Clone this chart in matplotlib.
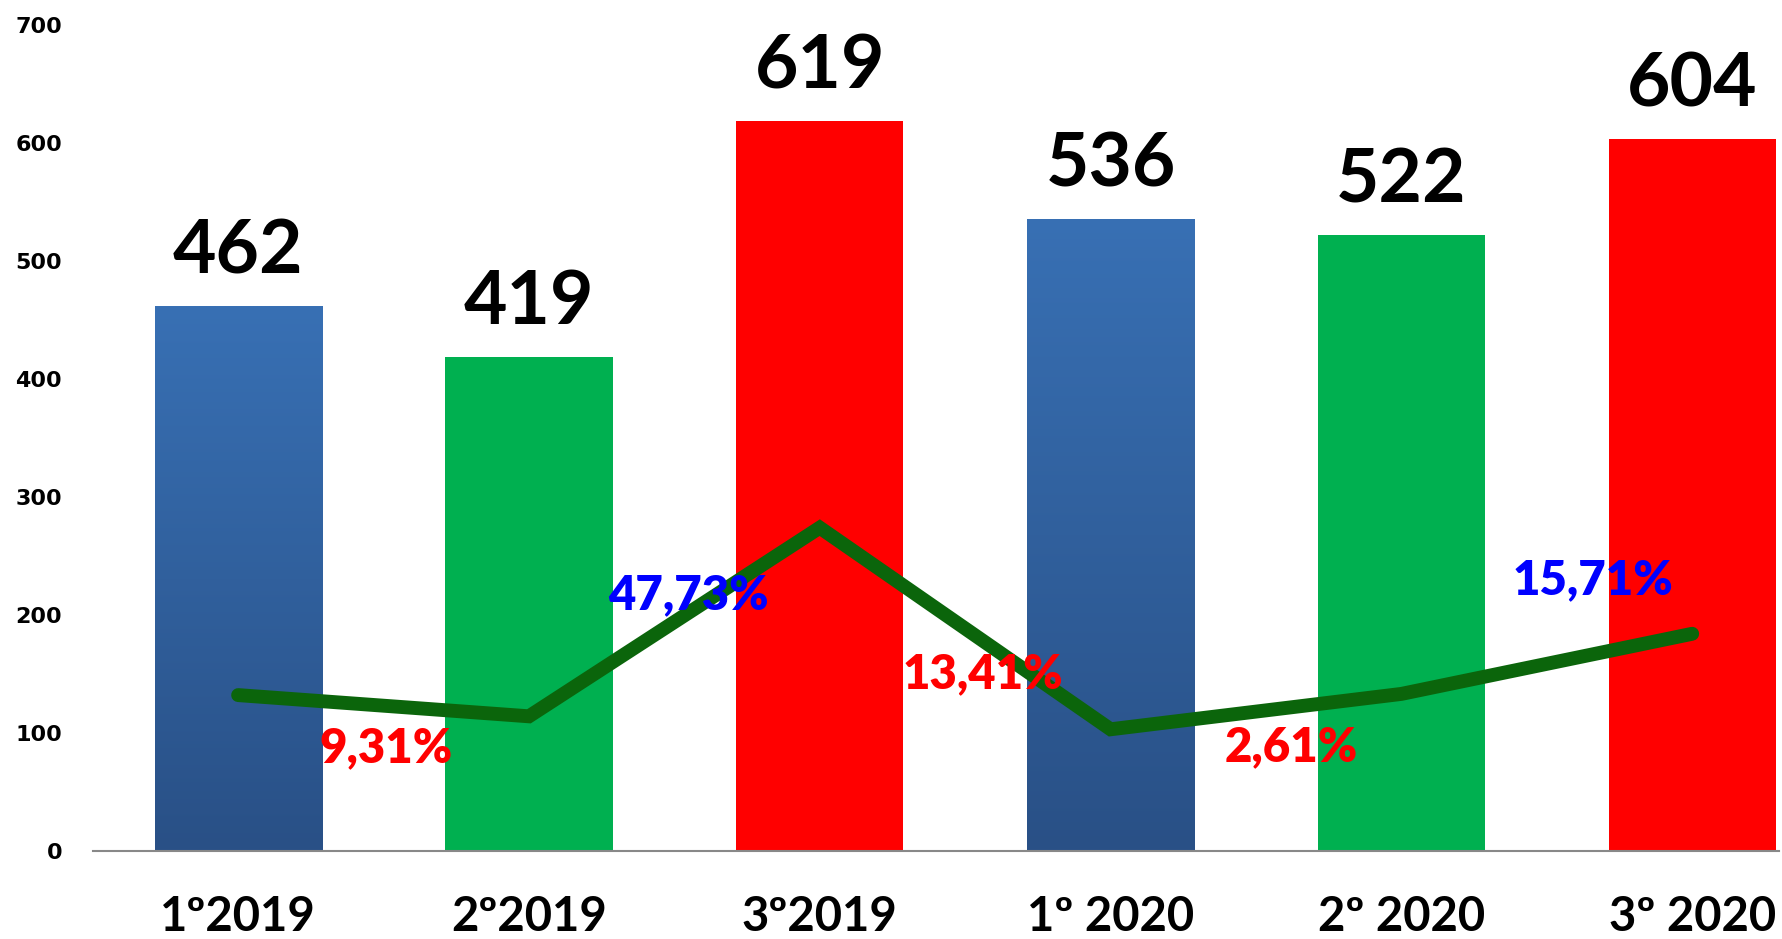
import numpy as np
import matplotlib.pyplot as plt

categories = ['1º2019', '2º2019', '3º2019', '1º 2020', '2º 2020', '3º 2020']
values = [462, 419, 619, 536, 522, 604]
bar_colors = ['blue', '#00B050', '#FF0000', 'blue', '#00B050', '#FF0000']
line_vals = [132, 114, 274, 103, 133, 184]
pct_labels = ['9,31%', '47,73%', '13,41%', '2,61%', '15,71%']
pct_x = [0.51, 1.55, 2.56, 3.62, 4.66]
pct_y = [87, 217, 150, 88, 229]
pct_colors = ['#FF0000', '#0000FF', '#FF0000', '#FF0000', '#0000FF']

plt.rcParams['font.family'] = ['Lato', 'DejaVu Sans']

fig = plt.figure(figsize=(17.83, 9.39), dpi=100)
ax = fig.add_axes([0.052, 0.094, 0.946, 0.879])

x = np.arange(len(categories))
width = 0.575
bars = ax.bar(x, values, width=width, color=bar_colors, zorder=2)

# gradient for the blue bars
grad = np.linspace(0, 1, 256).reshape(-1, 1)
top = np.array([56, 112, 180]) / 255
bot = np.array([41, 80, 134]) / 255
img = bot + (top - bot) * grad[:, :, None] * np.ones((1, 1, 3))
for b, c in zip(bars, bar_colors):
    if c == 'blue':
        b.set_facecolor('none')
        x0 = b.get_x()
        im = ax.imshow(img, extent=[x0, x0 + b.get_width(), 0, b.get_height()],
                       origin='lower', aspect='auto', zorder=2)
        im.set_clip_path(b)

ax.plot(x, line_vals, color='#0B650B', linewidth=10, solid_capstyle='round',
        solid_joinstyle='miter', zorder=3)

for xi, v in zip(x, values):
    ax.annotate(str(v), (xi, v), xytext=(0, 14), textcoords='offset points',
                ha='center', va='bottom', fontsize=54, fontweight='bold', zorder=4)

for lx, ly, t, c in zip(pct_x, pct_y, pct_labels, pct_colors):
    ax.text(lx, ly, t, color=c, ha='center', va='center', fontsize=34,
            fontweight='heavy', zorder=4)

ax.set_xlim(-0.5, 5.3)
ax.set_ylim(0, 700)
ax.set_yticks(range(0, 701, 100))
ax.set_xticks(x)
ax.set_xticklabels(categories, fontsize=34, fontweight='bold')
for lab in ax.get_yticklabels():
    lab.set_fontfamily('DejaVu Sans')
    lab.set_fontweight('bold')
    lab.set_fontsize(16)
ax.tick_params(axis='both', length=0)
ax.tick_params(axis='y', pad=22)
ax.tick_params(axis='x', pad=32)
for s in ['top', 'right', 'left']:
    ax.spines[s].set_visible(False)
ax.spines['bottom'].set_color('#888888')
ax.spines['bottom'].set_linewidth(1.5)
ax.spines['bottom'].set_zorder(5)

fig.savefig('out.png', dpi=100)
